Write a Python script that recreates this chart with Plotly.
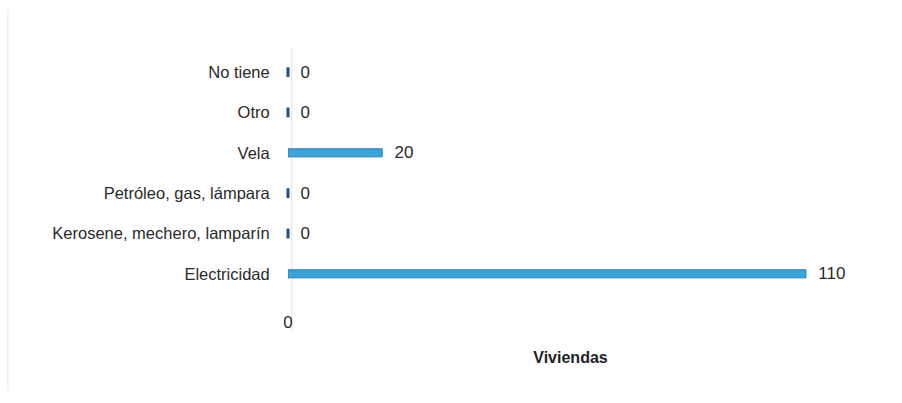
import plotly.graph_objects as go

# Viviendas por tipo de alumbrado
categorias = [
    "No tiene",
    "Otro",
    "Vela",
    "Petróleo, gas, lámpara",
    "Kerosene, mechero, lamparín",
    "Electricidad",
]
viviendas = [0, 0, 20, 0, 0, 110]
etiquetas = ["\u00a0\u00a0" + str(v) for v in viviendas]

font_main = "Liberation Sans Narrow, Arial Narrow, Liberation Sans, Arial, sans-serif"

fig = go.Figure()

fig.add_trace(go.Bar(
    x=viviendas,
    y=categorias,
    orientation="h",
    width=0.2,
    marker=dict(color="#3aa4d8", line=dict(color="#2a7fb3", width=1)),
    text=etiquetas,
    textposition="outside",
    constraintext="none",
    cliponaxis=False,
    textfont=dict(family=font_main, size=17, color="#2a2a2a"),
    hoverinfo="x+y",
))

# small marks at the base of empty categories
ceros = [c for c, v in zip(categorias, viviendas) if v == 0]
fig.add_trace(go.Scatter(
    x=[0] * len(ceros),
    y=ceros,
    mode="markers",
    marker=dict(symbol="line-ns", size=7, line=dict(color="#1f4e8c", width=3)),
    hoverinfo="skip",
    cliponaxis=False,
))

fig.update_layout(
    width=902,
    height=403,
    margin=dict(l=288, r=49, t=52, b=109),
    paper_bgcolor="white",
    plot_bgcolor="white",
    showlegend=False,
    bargap=0.8,
    xaxis=dict(
        range=[0, 120],
        tickmode="array",
        tickvals=[0],
        ticktext=["0"],
        showgrid=False,
        zeroline=False,
        showline=False,
        ticks="outside",
        ticklen=13,
        tickcolor="rgba(0,0,0,0)",
        tickfont=dict(family=font_main, size=17, color="#2a2a2a"),
        title=dict(
            text="<b>Viviendas</b>",
            font=dict(family="Liberation Sans, Arial, sans-serif", size=16, color="#222"),
            standoff=20,
        ),
        fixedrange=True,
    ),
    yaxis=dict(
        autorange="reversed",
        showgrid=False,
        zeroline=False,
        showline=False,
        ticks="outside",
        ticklen=14,
        tickcolor="rgba(0,0,0,0)",
        tickfont=dict(family=font_main, size=16.5, color="#2a2a2a"),
        fixedrange=True,
    ),
    shapes=[
        # zero reference line
        dict(type="line", xref="x", yref="paper",
             x0=0.8, x1=0.8, y0=-0.15, y1=1.017,
             line=dict(color="#e2e2e2", width=1), layer="below"),
        # faint frame edge on the left
        dict(type="line", xref="paper", yref="paper",
             x0=-0.4956, x1=-0.4956, y0=-0.397, y1=1.174,
             line=dict(color="#e6e6e6", width=1)),
    ],
)

fig.write_html("out.html")
